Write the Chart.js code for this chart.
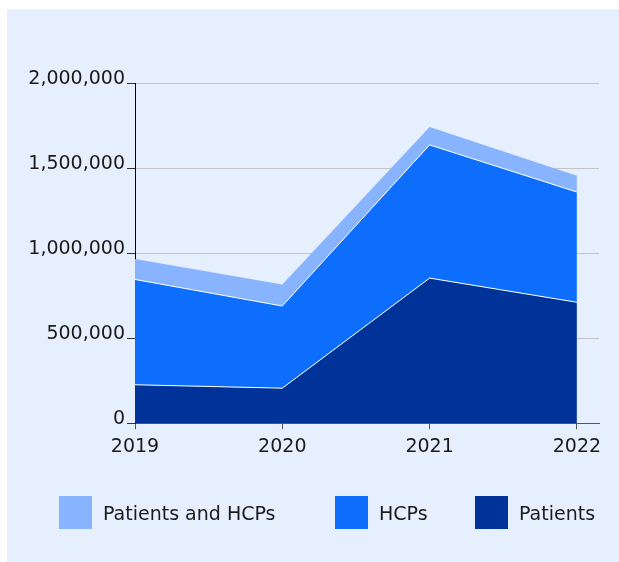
<!DOCTYPE html>
<html>
<head>
<meta charset="utf-8">
<script src="https://cdn.jsdelivr.net/npm/chart.js@4"></script>
<style>
  body { margin: 0; background: #fff; font-family: "DejaVu Sans", Verdana, sans-serif; }
  #panel { position: absolute; left: 7px; top: 9px; width: 612px; height: 553px; background: #e6effe; }
  #legend { position: absolute; left: 0; top: 487px; width: 612px; height: 33px; }
  .item { position: absolute; top: 0; height: 33px; display: flex; align-items: center; font-size: 19px; color: #1a1a1a; white-space: nowrap; }
  .box { width: 33px; height: 33px; margin-right: 11px; }
</style>
</head>
<body>
<div id="panel"><canvas id="myChart"></canvas><div id="legend"></div></div>
<script>
const years = [2019, 2020, 2021, 2022]
const patients = [226000, 206000, 853000, 711000]
const hcps = [619000, 483000, 783000, 648000]
const patientsAndHcps = [120000, 127000, 105000, 95000]
const yTickValues = [0, 500000, 1000000, 1500000, 2000000]

const toPoints = (values) => values.map((v, i) => ({ x: years[i], y: v }))

Chart.defaults.font.family = '"DejaVu Sans", Verdana, sans-serif'
Chart.defaults.font.size = 19
Chart.defaults.color = '#1a1a1a'

const ctx = document.getElementById('myChart')

const myChart = new Chart(ctx, {
    type: 'line',
    data: {
      datasets: [
        {
          label: 'Patients',
          data: toPoints(patients),
          backgroundColor: '#003399',
          borderColor: '#ffffff',
          borderWidth: 1,
          fill: 'origin'
        },
        {
          label: 'HCPs',
          data: toPoints(hcps),
          backgroundColor: '#0d6efd',
          borderColor: '#ffffff',
          borderWidth: 1,
          fill: '-1'
        },
        {
          label: 'Patients and HCPs',
          data: toPoints(patientsAndHcps),
          backgroundColor: '#88b4ff',
          borderColor: '#88b4ff',
          borderWidth: 0,
          fill: '-1'
        }
      ]
    },
    options: {
      responsive: true,
      maintainAspectRatio: false,
      animation: false,
      elements: {
        line: { tension: 0 },
        point: { radius: 0, hoverRadius: 0 }
      },
      layout: {
        padding: { left: 0, right: 20, top: 74, bottom: 98 }
      },
      plugins: {
        tooltip: { enabled: false },
        legend: { display: false }
      },
      scales: {
        x: {
          type: 'linear',
          min: 2019,
          max: 2022.15,
          grid: {
            drawOnChartArea: false,
            tickLength: 6,
            tickColor: '#555555'
          },
          border: { color: '#555555' },
          ticks: {
            stepSize: 1,
            includeBounds: false,
            padding: 6,
            callback: (v) => Number.isInteger(v) ? String(v) : ''
          }
        },
        y: {
          stacked: true,
          min: 0,
          max: 2000000,
          grid: {
            color: '#c4c4c4',
            tickLength: 8,
            tickColor: '#333333'
          },
          border: { color: '#000000' },
          ticks: {
            padding: 2,
            labelOffset: -4,
            callback: (v) => v.toLocaleString('en-US')
          },
          afterBuildTicks: (scale) => {
            scale.ticks = yTickValues.map(v => ({ value: v }))
          },
          afterFit: (scale) => { scale.width = 128 }
        }
      }
    }
  }
)

// legend in the order of the picture: top layer first
const legendLeft = [52, 328, 468]
const legend = document.getElementById('legend')
myChart.data.datasets.slice().reverse().forEach((ds, i) => {
    const item = document.createElement('div')
    item.className = 'item'
    item.style.left = legendLeft[i] + 'px'
    const box = document.createElement('span')
    box.className = 'box'
    box.style.background = ds.backgroundColor
    const text = document.createElement('span')
    text.textContent = ds.label
    item.appendChild(box)
    item.appendChild(text)
    legend.appendChild(item)
})
</script>
</body>
</html>
